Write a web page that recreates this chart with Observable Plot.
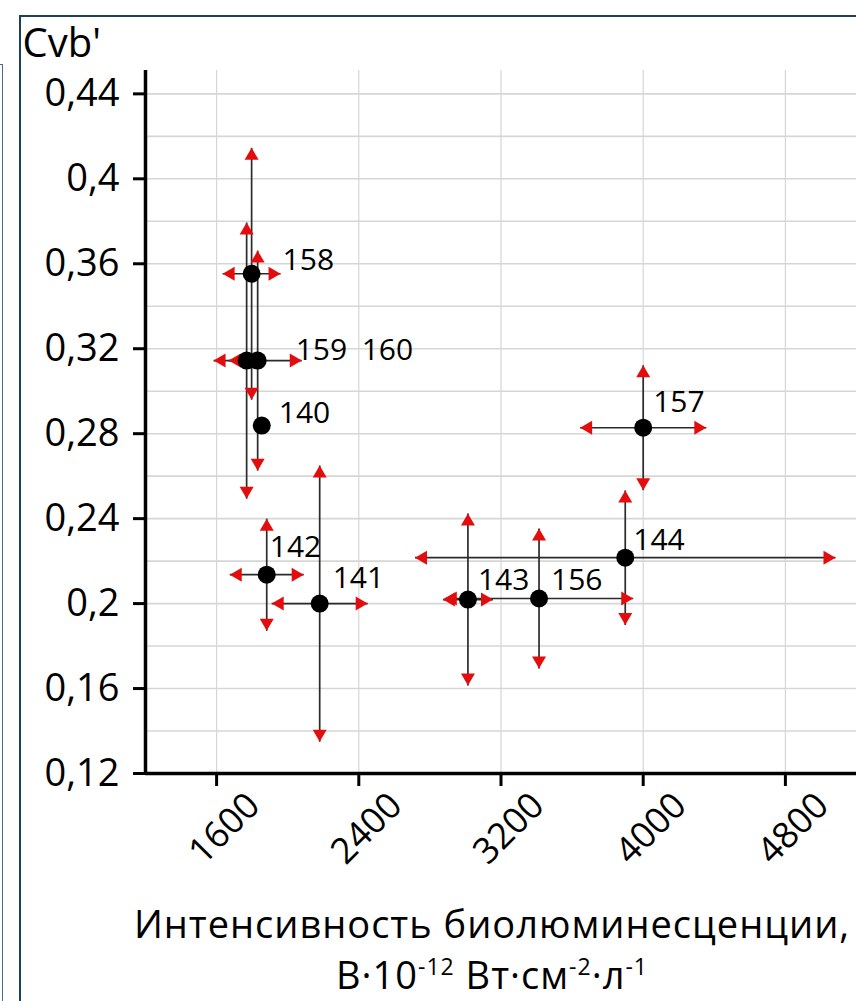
<!DOCTYPE html>
<html>
<head>
<meta charset="utf-8">
<script src="https://cdn.jsdelivr.net/npm/d3@7"></script>
<script src="https://cdn.jsdelivr.net/npm/@observablehq/plot@0.6"></script>
<style>
  html, body { margin: 0; padding: 0; background: #fff; }
  #page { position: relative; width: 856px; height: 1001px; overflow: hidden; background: #fff; font-family: "Open Sans", sans-serif; }
  #chart { position: absolute; left: 0; top: 0; }
  .frame { position: absolute; pointer-events: none; z-index: 5; }
  #mainframe { left: 19px; top: 15px; width: 900px; height: 1100px; border: 2.5px solid #1c3f5e; box-sizing: border-box; }
  #sideframe { left: -30px; top: 64px; width: 33px; height: 1000px; border: 1.5px solid #4a6a88; box-sizing: border-box; }
  #xtitle { position: absolute; left: 0; top: 885px; z-index: 6; }
</style>
</head>
<body>
<div id="page">
  <div class="frame" id="mainframe"></div>
  <div class="frame" id="sideframe"></div>
  <div id="chart"></div>
  <svg id="xtitle" width="856" height="116" font-family="Open Sans" fill="#000">
    <text id="xt1" x="492" y="53" text-anchor="middle" font-size="38" letter-spacing="1"></text>
    <text id="xt2" x="492" y="104" text-anchor="middle" font-size="38" letter-spacing="1"></text>
  </svg>
</div>
<script>
// ---- data ----
const ids = ["158", "159", "160", "140", "142", "141", "143", "156", "144", "157"];
const intensity = [1797, 1769, 1831, 1854, 1882, 2180, 3014, 3414, 3899, 4000];
const cvb = [0.3553, 0.3144, 0.3144, 0.2838, 0.2136, 0.2000, 0.2019, 0.2024, 0.2216, 0.2828];
const intensityErr = [163, 101, 248, 0, 208, 270, 141, 530, 1183, 355];
const cvbErr = [0.0593, 0.065, 0.0518, 0, 0.0264, 0.065, 0.0405, 0.033, 0.0317, 0.0294];

const xTicks = [1600, 2400, 3200, 4000, 4800];
const yTicks = [0.12, 0.16, 0.2, 0.24, 0.28, 0.32, 0.36, 0.4, 0.44];
const yGrid = [0.12, 0.14, 0.16, 0.18, 0.2, 0.22, 0.24, 0.26, 0.28, 0.3, 0.32, 0.34, 0.36, 0.38, 0.4, 0.42, 0.44];
const yTitle = "Cvb'";
const xTitle1 = "Интенсивность биолюминесценции,";
// second title line: [text, isSuperscript]
const xTitle2 = [["В·10", false], ["-12", true], [" Вт·см", false], ["-2", true], ["·л", false], ["-1", true]];

// ---- label placement (style, pixel offsets from each point) ----
const labelOffset = {
  "158": [31, -13], "159": [49, -10], "160": [104, -10], "140": [17, -12],
  "142": [3, -27], "141": [13, -25], "143": [10, -19], "156": [12, -18],
  "144": [8, -17], "157": [10, -25]
};

const pts = ids.map((id, i) => ({id, x: intensity[i], y: cvb[i], ex: intensityErr[i], ey: cvbErr[i]}));
const vErr = pts.filter(d => d.ey > 0);
const hErr = pts.filter(d => d.ex > 0);

const comma = d => String(d).replace(".", ",");
const RED = "#e30d0d";
const LINE = "#2b2b2b";

// filled triangle arrowheads with the tip at the anchor point
const W = 7, L = 12;
const triUp = {draw(c) { c.moveTo(0, 0); c.lineTo(W, L); c.lineTo(-W, L); c.closePath(); }};
const triDown = {draw(c) { c.moveTo(0, 0); c.lineTo(W, -L); c.lineTo(-W, -L); c.closePath(); }};
const triLeft = {draw(c) { c.moveTo(0, 0); c.lineTo(L, -W); c.lineTo(L, W); c.closePath(); }};
const triRight = {draw(c) { c.moveTo(0, 0); c.lineTo(-L, -W); c.lineTo(-L, W); c.closePath(); }};

const labelMarks = pts.map(d => Plot.text([d], {
  x: "x", y: "y", text: "id", textAnchor: "start", lineAnchor: "middle",
  dx: labelOffset[d.id][0], dy: labelOffset[d.id][1], fontSize: 30, fill: "black"
}));

const plot = Plot.plot({
  width: 856,
  height: 885,
  marginLeft: 145,
  marginRight: 0,
  marginTop: 70,
  marginBottom: 112,
  style: {fontFamily: "Open Sans", background: "transparent", overflow: "visible", color: "black"},
  x: {domain: [1200, 5200], axis: null},
  y: {domain: [0.12, 0.451], axis: null},
  marks: [
    Plot.gridY(yGrid, {stroke: "#d6d6d6", strokeOpacity: 1, strokeWidth: 1.6}),
    Plot.gridX(xTicks, {stroke: "#d6d6d6", strokeOpacity: 1, strokeWidth: 1.2}),
    // error bars
    Plot.link(vErr, {x1: "x", x2: "x", y1: d => d.y - d.ey, y2: d => d.y + d.ey, stroke: LINE, strokeWidth: 1.7}),
    Plot.link(hErr, {y1: "y", y2: "y", x1: d => d.x - d.ex, x2: d => d.x + d.ex, stroke: LINE, strokeWidth: 1.7}),
    Plot.dot(vErr, {x: "x", y: d => d.y + d.ey, symbol: triUp, fill: RED, stroke: "none", r: 6}),
    Plot.dot(vErr, {x: "x", y: d => d.y - d.ey, symbol: triDown, fill: RED, stroke: "none", r: 6}),
    Plot.dot(hErr, {x: d => d.x - d.ex, y: "y", symbol: triLeft, fill: RED, stroke: "none", r: 6}),
    Plot.dot(hErr, {x: d => d.x + d.ex, y: "y", symbol: triRight, fill: RED, stroke: "none", r: 6}),
    // points
    Plot.dot(pts, {x: "x", y: "y", r: 9, fill: "black", stroke: "none"}),
    ...labelMarks,
    // axes
    Plot.ruleX([1200], {stroke: "black", strokeWidth: 3.5}),
    Plot.ruleY([0.12], {stroke: "black", strokeWidth: 3.5}),
    Plot.axisY({ticks: yTicks, tickSize: 12, tickPadding: 14, tickFormat: comma, fontSize: 38, strokeWidth: 3, label: null, stroke: "black", fill: "black"}),
    Plot.axisX({ticks: xTicks, tickSize: 13, tickFormat: () => "", strokeWidth: 3, label: null, stroke: "black"}),
    Plot.axisX({ticks: xTicks, tickSize: 0, tickPadding: 26, tickRotate: -45, dx: 37, tickFormat: d => String(d), fontSize: 36, label: null, fill: "black"}),
    Plot.text([yTitle], {frameAnchor: "top-left", dx: -123, dy: -14, textAnchor: "start", lineAnchor: "bottom", fontSize: 40, fill: "black"})
  ]
});
document.getElementById("chart").appendChild(plot);

// x-axis title (two lines, second with superscripts)
d3.select("#xt1").text(xTitle1);
const t2 = d3.select("#xt2");
let shifted = false;
xTitle2.forEach(([s, sup]) => {
  const dy = sup && !shifted ? -14 : (!sup && shifted ? 14 : 0);
  shifted = sup;
  const ts = t2.append("tspan").attr("dy", dy).text(s);
  if (sup) ts.attr("font-size", 23);
});
</script>
</body>
</html>
